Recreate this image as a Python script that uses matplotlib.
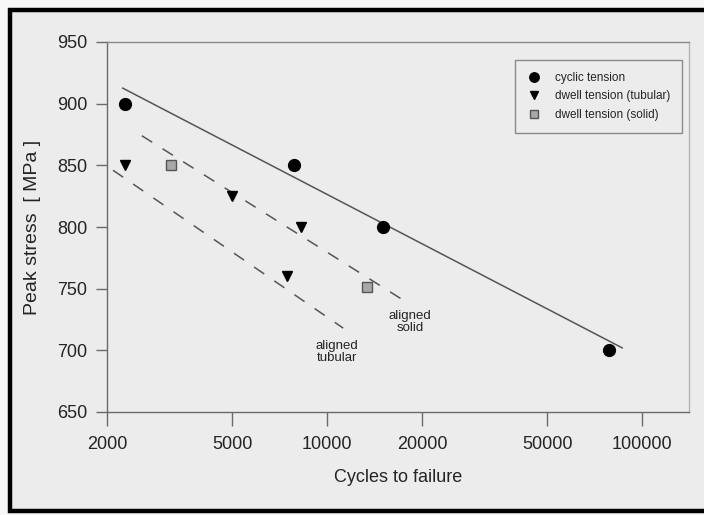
import matplotlib.pyplot as plt
from matplotlib.patches import Rectangle

plt.rcParams['font.family'] = ['Liberation Sans', 'DejaVu Sans']

# data
cyclic_n = [2280, 7850, 15000, 78500]
cyclic_s = [900, 850, 800, 700]
tubular_n = [2280, 5000, 8260, 7450]
tubular_s = [850, 825, 800, 760]
solid_n = [3190, 13400]
solid_s = [850, 751]

# fitted trend lines (end points)
fit_cyclic_n = [2244, 86500]
fit_cyclic_s = [912.6, 702]
fit_solid_n = [2580, 17130]
fit_solid_s = [874, 742]
fit_tubular_n = [2090, 11250]
fit_tubular_s = [846, 718]

xticks = [2000, 5000, 10000, 20000, 50000, 100000]
yticks = [650, 700, 750, 800, 850, 900, 950]

bg = '#ececec'
grey = '#6a6a6a'
txt = '#242424'

fig = plt.figure(figsize=(7.04, 5.15), dpi=100, facecolor='#f7f7f7')
# scanned page frame
fig.patches.append(Rectangle((10 / 704, 4 / 515), 1.2, 1 - 14 / 515,
                             transform=fig.transFigure, facecolor=bg,
                             edgecolor='black', lw=3.2, zorder=-10))

ax = fig.add_axes([107 / 704, 1 - 412 / 515, 582 / 704, 370 / 515])
ax.set_zorder(1)
ax.set_facecolor(bg)
ax.set_xscale('log')
ax.set_xlim(2000, 141000)
ax.set_ylim(650, 950)

ax.plot(fit_cyclic_n, fit_cyclic_s, color='#555555', lw=1.1)
ax.plot(fit_solid_n, fit_solid_s, color='#555555', lw=1.1, dashes=(8, 8))
ax.plot(fit_tubular_n, fit_tubular_s, color='#555555', lw=1.1, dashes=(8, 8))

ax.plot(cyclic_n, cyclic_s, 'o', color='black', ms=8.5, label='cyclic tension')
ax.plot(tubular_n, tubular_s, 'v', color='black', ms=7.5, label='dwell tension (tubular)')
ax.plot(solid_n, solid_s, 's', mfc='#a8a8a8', mec='#555555', mew=1, ms=6.5,
        label='dwell tension (solid)')

ax.text(18330, 723, 'aligned\nsolid', ha='center', va='center', fontsize=9.5,
        color=txt, linespacing=1.0)
ax.text(10740, 699, 'aligned\ntubular', ha='center', va='center', fontsize=9.5,
        color=txt, linespacing=1.0)

ax.set_xticks(xticks)
ax.set_xticklabels([str(v) for v in xticks])
ax.xaxis.set_minor_locator(plt.NullLocator())
ax.set_yticks(yticks)
ax.tick_params(axis='x', direction='out', length=10, width=1, color=grey,
               labelsize=13, labelcolor=txt, pad=7)
ax.tick_params(axis='y', direction='out', length=8, width=1, color=grey,
               labelsize=13, labelcolor=txt, pad=6)
for s in ax.spines.values():
    s.set_color(grey)
    s.set_linewidth(1)
ax.spines['right'].set_color('#b5b5b5')
ax.spines['top'].set_color('#8a8a8a')

ax.set_xlabel('Cycles to failure', fontsize=13, color=txt, labelpad=12)
ax.set_ylabel('Peak stress  [ MPa ]', fontsize=14, color=txt, labelpad=12)

leg = ax.legend(loc='upper right', bbox_to_anchor=(0.988, 0.951), fontsize=8.5,
                frameon=True, fancybox=False, edgecolor='#8a8a8a', facecolor=bg,
                framealpha=1, borderpad=1.0, labelspacing=0.55, handletextpad=1.2,
                handlelength=1.2, borderaxespad=0, markerscale=0.8)
leg.get_frame().set_linewidth(1)
for t in leg.get_texts():
    t.set_color(txt)

fig.savefig('out.png', dpi=100, facecolor=fig.get_facecolor())
